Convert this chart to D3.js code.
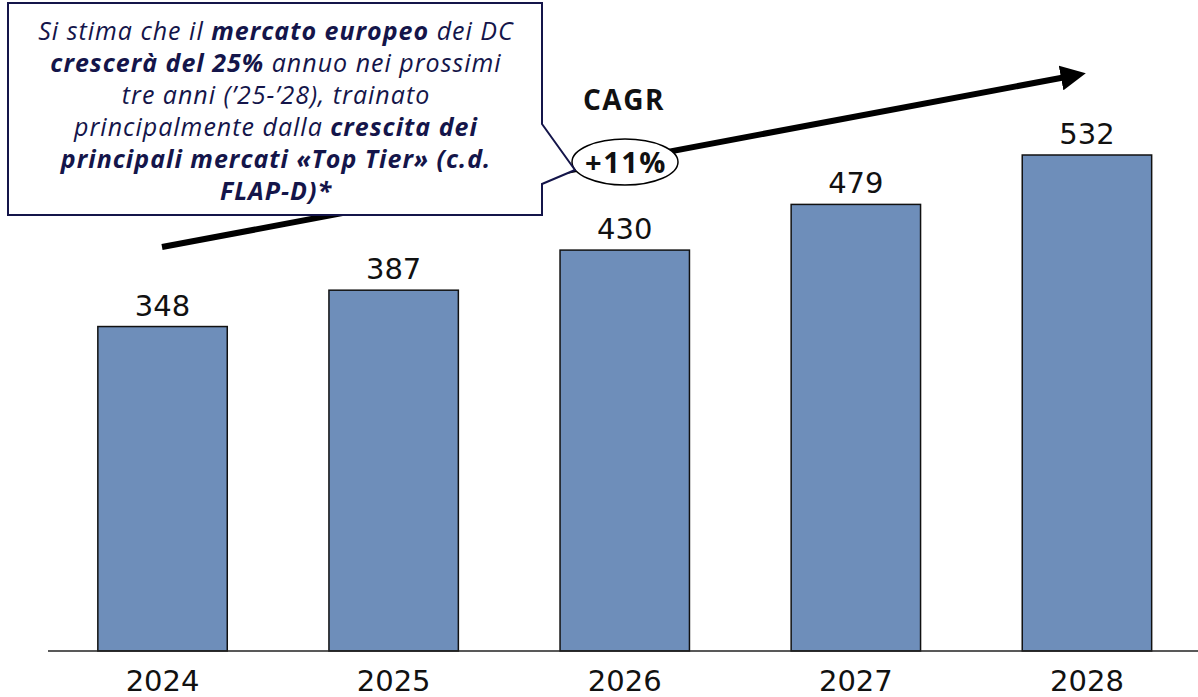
<!DOCTYPE html>
<html><head><meta charset="utf-8">
<script src="https://cdn.jsdelivr.net/npm/d3@7"></script>
<style>body{margin:0;background:#fff}svg{display:block}</style>
</head><body>
<svg id="c" width="1198" height="697"></svg>
<script>
const years = ["2024","2025","2026","2027","2028"];
const values = [348, 387, 430, 479, 532];
const cagrLabel = "+11%";
const calloutLines = [
  [["Si stima che il ", false], ["mercato europeo", true], [" dei DC", false]],
  [["crescerà del 25%", true], [" annuo nei prossimi", false]],
  [["tre anni (’25-’28), trainato", false]],
  [["principalmente dalla ", false], ["crescita dei", true]],
  [["principali mercati «Top Tier» (c.d.", true]],
  [["FLAP-D)*", true]]
];

const svg = d3.select("#c");
const baseY = 651;
const x = d3.scaleBand().domain(years).range([47, 1202.5]).paddingInner(0.44).paddingOuter(0.22);
const y = d3.scaleLinear().domain([0, d3.max(values)]).range([baseY, 155]);
const numFont = "'DejaVu Sans', Verdana, sans-serif";

svg.selectAll("rect.bar").data(values).join("rect")
  .attr("class","bar")
  .attr("x",(d,i)=>x(years[i]))
  .attr("y",d=>y(d))
  .attr("width",x.bandwidth())
  .attr("height",d=>baseY-y(d))
  .attr("fill","#6e8eba").attr("stroke","#111").attr("stroke-width",1.5);

svg.selectAll("text.val").data(values).join("text")
  .attr("class","val")
  .attr("x",(d,i)=>x(years[i])+x.bandwidth()/2)
  .attr("y",d=>y(d)-11)
  .attr("text-anchor","middle")
  .attr("font-family",numFont).attr("font-size",29).attr("fill","#111")
  .text(d=>d);

const xAxis = d3.axisBottom(x).tickSize(0).tickPadding(19);
const ga = svg.append("g").attr("transform",`translate(0,${baseY})`).call(xAxis);
ga.select(".domain").remove();
ga.selectAll("text").attr("font-family",numFont).attr("font-size",29).attr("fill","#111");
svg.append("line").attr("x1",48).attr("x2",1198).attr("y1",baseY).attr("y2",baseY)
  .attr("stroke","#222").attr("stroke-width",1.5);

const defs = svg.append("defs");
defs.append("marker").attr("id","ah").attr("viewBox","0 0 10 10").attr("refX",2).attr("refY",5)
  .attr("markerWidth",4.2).attr("markerHeight",4.2).attr("orient","auto")
  .append("path").attr("d","M0,0 L10,5 L0,10 Z").attr("fill","#000");
svg.append("line").attr("x1",162).attr("y1",247).attr("x2",1066).attr("y2",77)
  .attr("stroke","#000").attr("stroke-width",6).attr("marker-end","url(#ah)");

svg.append("text").attr("x",624).attr("y",110).attr("text-anchor","middle")
  .attr("font-family","'Open Sans', sans-serif").attr("font-weight",700).attr("font-size",28)
  .attr("letter-spacing",1.5).attr("fill","#111").text("CAGR");
svg.append("ellipse").attr("cx",625).attr("cy",162).attr("rx",53).attr("ry",23)
  .attr("fill","#fff").attr("stroke","#000").attr("stroke-width",1.5);
svg.append("text").attr("x",626).attr("y",173).attr("text-anchor","middle")
  .attr("font-family","'Open Sans', sans-serif").attr("font-weight",700).attr("font-size",29)
  .attr("letter-spacing",1.5).attr("fill","#111").text(cagrLabel);

const navy = "#14154a";
const bx0=8, by0=3, bx1=542, by1=215;
const path = d3.path();
path.moveTo(bx0,by0); path.lineTo(bx1,by0); path.lineTo(bx1,124);
path.lineTo(575,170); path.lineTo(bx1,184); path.lineTo(bx1,by1); path.lineTo(bx0,by1); path.closePath();
svg.append("path").attr("d",path.toString()).attr("fill","#fff").attr("stroke",navy).attr("stroke-width",2);
const tg = svg.append("g").attr("font-family","'Open Sans', sans-serif").attr("font-style","italic")
  .attr("font-size",25).attr("letter-spacing",1).attr("fill",navy);
calloutLines.forEach((line,i)=>{
  const t = tg.append("text").attr("x",276).attr("y",40+i*32).attr("text-anchor","middle");
  line.forEach(([s,b])=>t.append("tspan").attr("font-weight",b?700:400).text(s));
});
</script>
</body></html>
